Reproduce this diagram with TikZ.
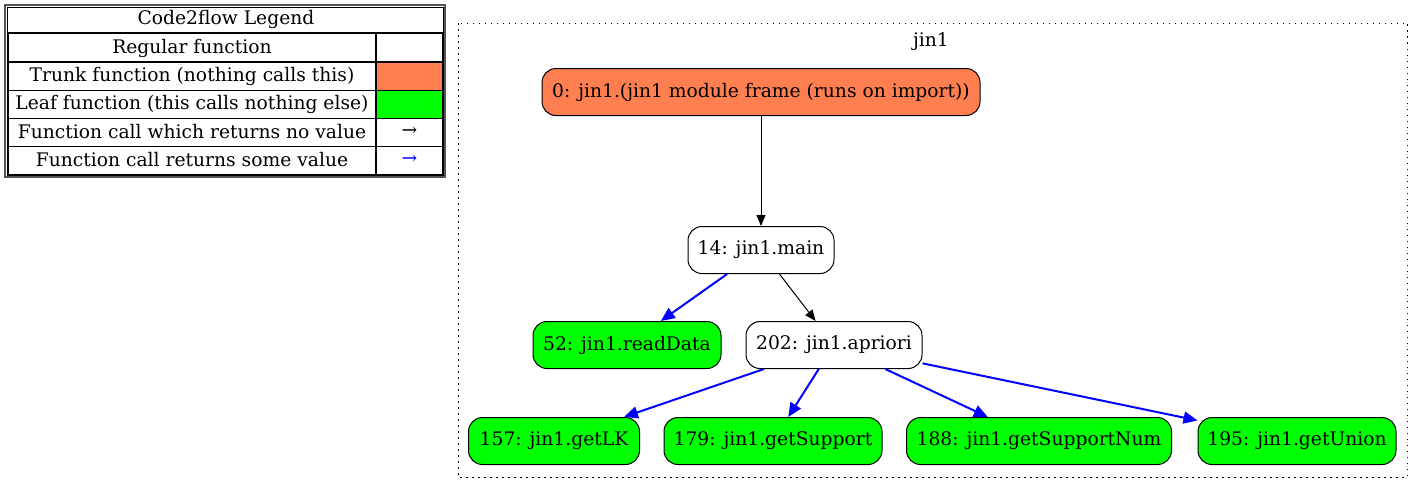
\documentclass[tikz,border=0pt]{standalone}
\usepackage{fontspec}
\setmainfont{DejaVu Serif}
\usetikzlibrary{arrows.meta}
\definecolor{trunk}{HTML}{FF7F50}
\definecolor{leaf}{HTML}{00FF00}
\definecolor{legframe}{HTML}{555555}

\begin{document}
\begin{tikzpicture}[x=1pt,y=-1pt,
      func/.style={rectangle,rounded corners=14pt,draw=black,line width=1pt,fill=white,minimum height=47pt,font=\fontsize{18.7}{22}\selectfont},
      trunkfn/.style={func,fill=trunk},
      leaffn/.style={func,fill=leaf},
      call/.style={draw=black,line width=1pt,-{Triangle[length=11pt,width=9pt]}},
      retcall/.style={draw=blue,line width=2pt,-{Triangle[length=14pt,width=12pt]}},
      legtext/.style={inner sep=0pt,font=\fontsize{18.7}{22}\selectfont},
      legcell/.style={minimum width=66pt,minimum height=28pt,inner sep=0pt}
      ]
      \useasboundingbox (0,0) rectangle (1423,493);
      % legend
      \node (title) [legtext] at (226,19) {Code2flow Legend};
      \node (regular)  [legtext] at (192,48)  {Regular function};
      \node (trunkrow) [legtext] at (192,76)  {Trunk function (nothing calls this)};
      \node (leafrow)  [legtext] at (192,104) {Leaf function (this calls nothing else)};
      \node (novalue)  [legtext] at (192,132) {Function call which returns no value};
      \node (value)    [legtext] at (192,160) {Function call returns some value};
      \node (trunkcell) [legcell,fill=trunk] at (409.5,76.5) {};
      \node (leafcell)  [legcell,fill=leaf]  at (409.5,104.5) {};
      \node (noarr)  [legtext] at (409.5,132) {→};
      \node (valarr) [legtext,text=blue] at (409.5,160) {→};
      \draw[legframe,line width=2pt] (5,5) rectangle (445,177);
      \draw[line width=1pt] (7.5,7.5) rectangle (443.5,32);
      \draw[line width=2pt] (8,33) rectangle (443,175);
      \foreach \y in {62,90.5,118.5,146.5}
        \draw[line width=1.6pt] (8,\y) -- (443,\y);
      \draw[line width=1.6pt] (376,33) -- (376,175);
      % cluster
      \draw[line width=1pt,dash pattern=on 1.5pt off 4.5pt] (458,23) rectangle (1407,477);
      \node (jin1) [legtext] at (931,42) {jin1};
      % functions
      \node (f0)   [trunkfn,minimum width=438pt] at (761,92)  {0: jin1.(jin1 module frame (runs on import))};
      \node (f14)  [func,minimum width=146pt]    at (761,250) {14: jin1.main};
      \node (f52)  [leaffn,minimum width=188pt]  at (627,345) {52: jin1.readData};
      \node (f202) [func,minimum width=176pt]    at (834,345) {202: jin1.apriori};
      \node (f157) [leaffn,minimum width=171pt]  at (554,441) {157: jin1.getLK};
      \node (f179) [leaffn,minimum width=218pt]  at (773,441) {179: jin1.getSupport};
      \node (f188) [leaffn,minimum width=265pt]  at (1039,441) {188: jin1.getSupportNum};
      \node (f195) [leaffn,minimum width=198pt]  at (1297,441) {195: jin1.getUnion};
      \draw[call] (f0) -- (f14);
      \draw[retcall] (f14) -- (f52);
      \draw[call] (f14) -- (f202);
      \draw[retcall] (f202) -- (f157);
      \draw[retcall] (f202) -- (f179);
      \draw[retcall] (f202) -- (f188);
      \draw[retcall] (f202) -- (f195);
\end{tikzpicture}
\end{document}
